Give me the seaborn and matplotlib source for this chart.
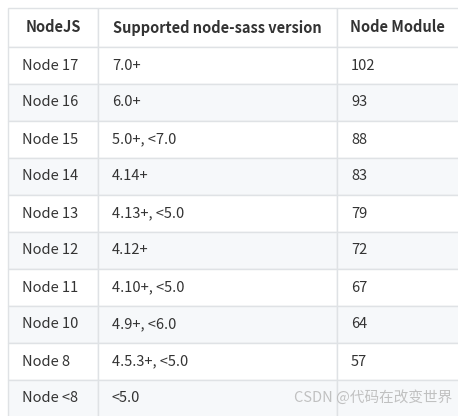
import matplotlib
matplotlib.use("Agg")
import matplotlib.pyplot as plt
import seaborn as sns
from matplotlib.patches import Rectangle

sns.set_theme(style="white")
plt.rcParams['font.family'] = ['Noto Sans CJK SC', 'DejaVu Sans']

headers = ["NodeJS", "Supported node-sass version", "Node Module"]
nodejs = ["Node 17", "Node 16", "Node 15", "Node 14", "Node 13", "Node 12", "Node 11", "Node 10", "Node 8", "Node <8"]
sass = ["7.0+", "6.0+", "5.0+, <7.0", "4.14+", "4.13+, <5.0", "4.12+", "4.10+, <5.0", "4.9+, <6.0", "4.5.3+, <5.0", "<5.0"]
module = ["102", "93", "88", "83", "79", "72", "67", "64", "57", ""]

col_x = [8, 98, 337, 470]
top, head_h, row_h = 8, 39, 37

fig = plt.figure(figsize=(4.58, 4.16), dpi=100)
ax = fig.add_axes([0, 0, 1, 1])
ax.set_xlim(0, 458)
ax.set_ylim(416, 0)
ax.axis("off")

border = "#dfe2e5"
# header
for j, h in enumerate(headers):
    ax.add_patch(Rectangle((col_x[j], top), col_x[j+1]-col_x[j], head_h, fc="white", ec=border, lw=1))
    ax.text((col_x[j]+col_x[j+1])/2 if j < 2 else col_x[j]+13, top+head_h/2, h,
            ha="center" if j < 2 else "left", va="center", fontsize=10.5, fontweight="bold", color="#333333")
for i, row in enumerate(zip(nodejs, sass, module)):
    y = top + head_h + i*row_h
    fc = "#f6f8fa" if i % 2 == 1 else "white"
    for j, v in enumerate(row):
        ax.add_patch(Rectangle((col_x[j], y), col_x[j+1]-col_x[j], row_h, fc=fc, ec=border, lw=1))
        ax.text(col_x[j]+14, y+row_h/2, v, ha="left", va="center", fontsize=10.5, color="#333333")

ax.text(452, 397, "CSDN @代码在改变世界", ha="right", va="center", fontsize=10.5, color="#bbbbbb", alpha=0.9)
fig.savefig("out.png", dpi=100)
